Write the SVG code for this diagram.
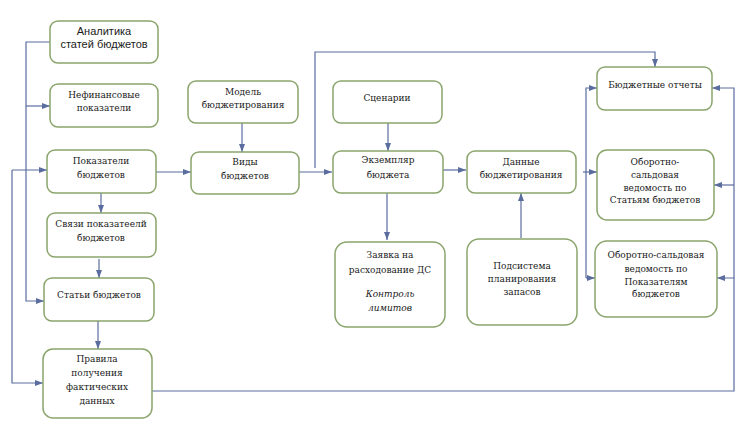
<svg xmlns="http://www.w3.org/2000/svg" width="747" height="446" viewBox="0 0 747 446">
<style>
.box{fill:#ffffff;stroke:#8aa56c;stroke-width:1.5}
.t{font-family:'DejaVu Serif Condensed','DejaVu Serif',serif;font-stretch:condensed;font-size:10px;fill:#1a1a1a;text-anchor:middle}
.s{font-family:'Liberation Sans','DejaVu Sans',sans-serif;font-size:11px;fill:#1a1a1a;text-anchor:middle}
.i{font-style:italic}
.c{fill:none;stroke:#5a6d9e;stroke-width:1.2}
</style>
<defs>
<marker id="a" markerUnits="userSpaceOnUse" markerWidth="8" markerHeight="6" refX="8" refY="3" orient="auto">
<path d="M0,0 L8,3 L0,6 z" fill="#5a6d9e"/>
</marker>
</defs>
<rect width="747" height="446" fill="#ffffff"/>
<g id="connectors">
<path class="c" d="M50,42 H26 V301 H44" marker-end="url(#a)"/>
<path class="c" d="M26,106 H50" marker-end="url(#a)"/>
<path class="c" d="M12,170 H47" marker-end="url(#a)"/>
<path class="c" d="M12,170 V383 H43" marker-end="url(#a)"/>
<path class="c" d="M101,193 V213" marker-end="url(#a)"/>
<path class="c" d="M99,259 V278" marker-end="url(#a)"/>
<path class="c" d="M98,321 V349" marker-end="url(#a)"/>
<path class="c" d="M152,391 H734 V278 H717" marker-end="url(#a)"/>
<path class="c" d="M242,123 V152" marker-end="url(#a)"/>
<path class="c" d="M156,172 H191" marker-end="url(#a)"/>
<path class="c" d="M299,172 H332" marker-end="url(#a)"/>
<path class="c" d="M315,168 V52 H655 V67" marker-end="url(#a)"/>
<path class="c" d="M388,123 V151" marker-end="url(#a)"/>
<path class="c" d="M443,170 H466" marker-end="url(#a)"/>
<path class="c" d="M387,193 V240" marker-end="url(#a)"/>
<path class="c" d="M521,238 V193" marker-end="url(#a)"/>
<path class="c" d="M583,172 H597" marker-end="url(#a)"/>
<path class="c" d="M586,278 V88 H597" marker-end="url(#a)"/>
<path class="c" d="M586,278 H595" marker-end="url(#a)"/>
<path class="c" d="M734,278 V88 H712" marker-end="url(#a)"/>
<path class="c" d="M734,185 H714" marker-end="url(#a)"/>
</g>
<g id="n1"><rect class="box" x="50" y="21" width="108" height="42" rx="8"/><text class="s" x="104" y="35">Аналитика</text><text class="s" x="104" y="48">статей бюджетов</text></g>
<g id="n2"><rect class="box" x="50" y="84" width="108" height="43" rx="8"/><text class="t" x="104" y="98">Нефинансовые</text><text class="t" x="104" y="111">показатели</text></g>
<g id="n3"><rect class="box" x="47" y="150" width="109" height="43" rx="8"/><text class="t" x="101" y="164">Показатели</text><text class="t" x="101" y="178">бюджетов</text></g>
<g id="n4"><rect class="box" x="47" y="213" width="109" height="44" rx="8"/><text class="t" x="101" y="227">Связи показатеелй</text><text class="t" x="101" y="241">бюджетов</text></g>
<g id="n5"><rect class="box" x="44" y="278" width="110" height="43" rx="8"/><text class="t" x="99" y="298">Статьи бюджетов</text></g>
<g id="n6"><rect class="box" x="43" y="349" width="109" height="69" rx="10"/><text class="t" x="97" y="362">Правила</text><text class="t" x="97" y="376">получения</text><text class="t" x="97" y="390">фактических</text><text class="t" x="97" y="404">данных</text></g>
<g id="n7"><rect class="box" x="188" y="81" width="110" height="42" rx="8"/><text class="t" x="243" y="95">Модель</text><text class="t" x="243" y="108">бюджетирования</text></g>
<g id="n8"><rect class="box" x="191" y="152" width="108" height="42" rx="8"/><text class="t" x="245" y="165">Виды</text><text class="t" x="245" y="179">бюджетов</text></g>
<g id="n9"><rect class="box" x="333" y="81" width="109" height="42" rx="8"/><text class="t" x="387" y="101">Сценарии</text></g>
<g id="n10"><rect class="box" x="333" y="151" width="110" height="42" rx="8"/><text class="t" x="388" y="163">Экземпляр</text><text class="t" x="388" y="178">бюджета</text></g>
<g id="n11"><rect class="box" x="335" y="242" width="110" height="85" rx="12"/><text class="t" x="390" y="258">Заявка на</text><text class="t" x="390" y="273">расходование ДС</text><text class="t i" x="390" y="297">Контроль</text><text class="t i" x="390" y="311">лимитов</text></g>
<g id="n12"><rect class="box" x="467" y="151" width="109" height="42" rx="8"/><text class="t" x="521" y="165">Данные</text><text class="t" x="521" y="178">бюджетирования</text></g>
<g id="n13"><rect class="box" x="467" y="239" width="110" height="86" rx="12"/><text class="t" x="522" y="269">Подсистема</text><text class="t" x="522" y="282">планирования</text><text class="t" x="522" y="295">запасов</text></g>
<g id="n14"><rect class="box" x="597" y="67" width="115" height="43" rx="8"/><text class="t" x="655" y="88">Бюджетные отчеты</text></g>
<g id="n15"><rect class="box" x="597" y="150" width="117" height="70" rx="10"/><text class="t" x="655" y="165">Оборотно-</text><text class="t" x="655" y="178">сальдовая</text><text class="t" x="655" y="191">ведомость по</text><text class="t" x="655" y="203">Статьям бюджетов</text></g>
<g id="n16"><rect class="box" x="595" y="241" width="122" height="76" rx="12"/><text class="t" x="656" y="258">Оборотно-сальдовая</text><text class="t" x="656" y="272">ведомость по</text><text class="t" x="656" y="285">Показателям</text><text class="t" x="656" y="297">бюджетов</text></g>
</svg>
